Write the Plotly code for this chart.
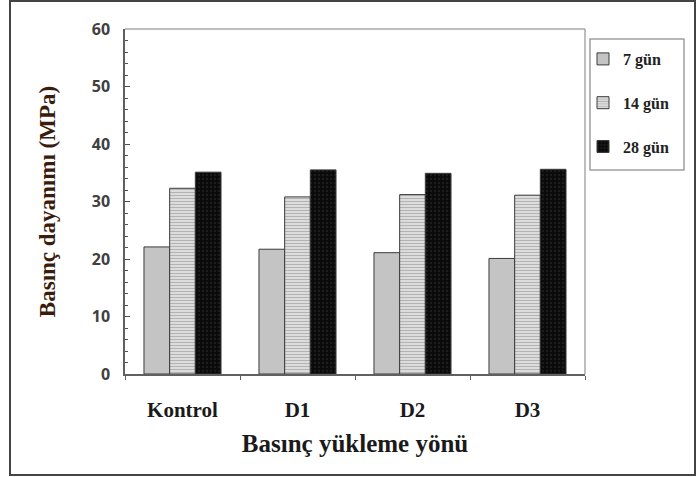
import plotly.graph_objects as go

categories = ["Kontrol", "D1", "D2", "D3"]
series_names = ["7 gün", "14 gün", "28 gün"]
v7 = [22.1, 21.7, 21.1, 20.1]
v14 = [32.3, 30.8, 31.2, 31.1]
v28 = [35.1, 35.5, 34.9, 35.6]
y_ticks = [0, 10, 20, 30, 40, 50, 60]

serif = "Liberation Serif, Times New Roman, serif"
sans = "Open Sans, Liberation Sans, sans-serif"
outline = dict(color="#3a3a3a", width=1)

L, R, T, B = 125, 585, 29, 374
PW, PH = R - L, B - T

def px(x):
    return (x - L) / PW

def py(y):
    return (B - y) / PH

fig = go.Figure()
fig.add_trace(go.Bar(
    name=series_names[0], x=categories, y=v7,
    marker=dict(color="#c4c4c4", line=outline),
    legendgroup="a",
))
fig.add_trace(go.Bar(
    name=series_names[1], x=categories, y=v14,
    marker=dict(color="#d6d6d6", line=outline,
                pattern=dict(shape="-", fgcolor="#8a8a8a", bgcolor="#dcdcdc",
                             size=3, solidity=0.35)),
    legendgroup="b",
))
fig.add_trace(go.Bar(
    name=series_names[2], x=categories, y=v28,
    marker=dict(color="#0c0c0c", line=outline,
                pattern=dict(shape=".", fgcolor="#2e2e2e", bgcolor="#0a0a0a",
                             size=4, solidity=0.3)),
    legendgroup="c",
))

fig.update_layout(
    width=697, height=477,
    margin=dict(l=L, r=697 - R, t=T, b=477 - B),
    paper_bgcolor="white", plot_bgcolor="white",
    barmode="group", bargap=0.33, bargroupgap=0,
    showlegend=True,
    legend=dict(
        xref="paper", yref="paper", x=px(583), y=py(42),
        xanchor="left", yanchor="top",
        font=dict(family=serif, size=16, color="#222222", weight="bold"),
        borderwidth=0, bgcolor="rgba(0,0,0,0)",
        traceorder="grouped", tracegroupgap=20,
        itemwidth=30,
    ),
    xaxis=dict(
        type="category",
        showline=True, linecolor="#606060", linewidth=1.5,
        ticks="outside", ticklen=4, tickcolor="#606060", tickson="boundaries",
        tickfont=dict(family=serif, size=21, color="#1a1a1a", weight="bold"),
        ticklabelstandoff=16,
        showgrid=False,
        title=dict(text="Basınç yükleme yönü",
                   font=dict(family=serif, size=25, color="#1a1a1a", weight="bold"),
                   standoff=14),
    ),
    yaxis=dict(
        range=[0, 60], tickvals=y_ticks,
        showline=True, linecolor="#606060", linewidth=1.5,
        ticks="inside", ticklen=5, tickcolor="#505050",
        minor=dict(dtick=2, ticks="inside", ticklen=3, tickcolor="#505050"),
        tickfont=dict(family=sans, size=16, color="#404040", weight="bold"),
        ticklabelstandoff=10,
        showgrid=False, zeroline=False,
        title=dict(text="Basınç dayanımı (MPa)",
                   font=dict(family=serif, size=23, color="#3a1c0c", weight="bold"),
                   standoff=30),
    ),
)

# top and right frame of the plot area (light gray)
fig.add_shape(type="line", xref="paper", yref="paper", x0=0, x1=1, y0=1, y1=1,
              line=dict(color="#a8a8a8", width=1.5))
fig.add_shape(type="line", xref="paper", yref="paper", x0=1, x1=1, y0=0, y1=1,
              line=dict(color="#a8a8a8", width=1.5))
# legend frame
fig.add_shape(type="rect", xref="paper", yref="paper",
              x0=px(590), x1=px(684), y0=py(170), y1=py(39),
              line=dict(color="#a0a0a0", width=1.5), layer="below")
# outer picture border
fig.add_shape(type="rect", xref="paper", yref="paper",
              x0=px(10), x1=px(695), y0=py(475), y1=py(1),
              line=dict(color="#444444", width=2))

fig.write_html("out.html", config={"displayModeBar": False},
               post_script="document.body.style.margin='0';")
